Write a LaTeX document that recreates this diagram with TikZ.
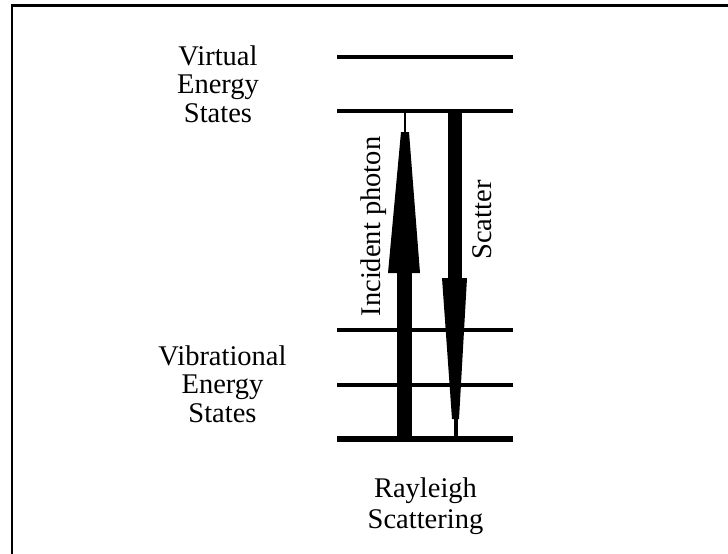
\documentclass[tikz,border=0pt]{standalone}
\usepackage{fontspec}
\setmainfont{Liberation Serif}
\begin{document}
\begin{tikzpicture}[x=1pt,y=-1pt,
  level/.style={line width=4pt},
  groundlevel/.style={line width=6pt},
  lbl/.style={inner sep=0pt, align=center, font=\fontsize{28.5}{28.5}\selectfont},
  rlbl/.style={inner sep=0pt, rotate=90, font=\fontsize{28.5}{28.5}\selectfont},
  frameline/.style={line width=2.5pt}]
\useasboundingbox (0,0) rectangle (728,554);
% frame
\coordinate (fa) at (12,554);
\coordinate (fb) at (12,5.5);
\coordinate (fc) at (728,5.5);
\draw[frameline] (fa) -- (fb) -- (fc);
% energy levels
\coordinate (v1l) at (337,56.5); \coordinate (v1r) at (513,56.5);
\coordinate (v2l) at (337,110.5); \coordinate (v2r) at (513,110.5);
\coordinate (e2l) at (337,330); \coordinate (e2r) at (513,330);
\coordinate (e1l) at (337,384.5); \coordinate (e1r) at (513,384.5);
\coordinate (e0l) at (337,439); \coordinate (e0r) at (513,439);
\draw[level] (v1l) -- (v1r);
\draw[level] (v2l) -- (v2r);
\draw[level] (e2l) -- (e2r);
\draw[level] (e1l) -- (e1r);
\draw[groundlevel] (e0l) -- (e0r);
% incident photon arrow
\fill (397,439) rectangle (412,272);
\fill (388,273) -- (420,273) -- (409,132) -- (401,132) -- cycle;
\coordinate (ia) at (405,133);
\coordinate (ib) at (405,110.5);
\draw[line width=2pt] (ia) -- (ib);
% scatter arrow
\fill (448,110.5) rectangle (462,279);
\fill (442,278) -- (467,278) -- (459,419) -- (452,419) -- cycle;
\coordinate (sa) at (456,418);
\coordinate (sb) at (456,439);
\draw[line width=3.5pt] (sa) -- (sb);
% labels
\node[lbl] (virt) at (218,84) {Virtual\\Energy\\States};
\node[lbl] (vib) at (222.5,384) {Vibrational\\Energy\\States};
\node[lbl, align=center, font=\fontsize{28.5}{31}\selectfont] (ray) at (425.5,506) {Rayleigh\\Scattering};
\node[rlbl] (inc) at (373.5,226.5) {Incident photon};
\node[rlbl] (sca) at (482.5,220) {Scatter};
\end{tikzpicture}
\end{document}
